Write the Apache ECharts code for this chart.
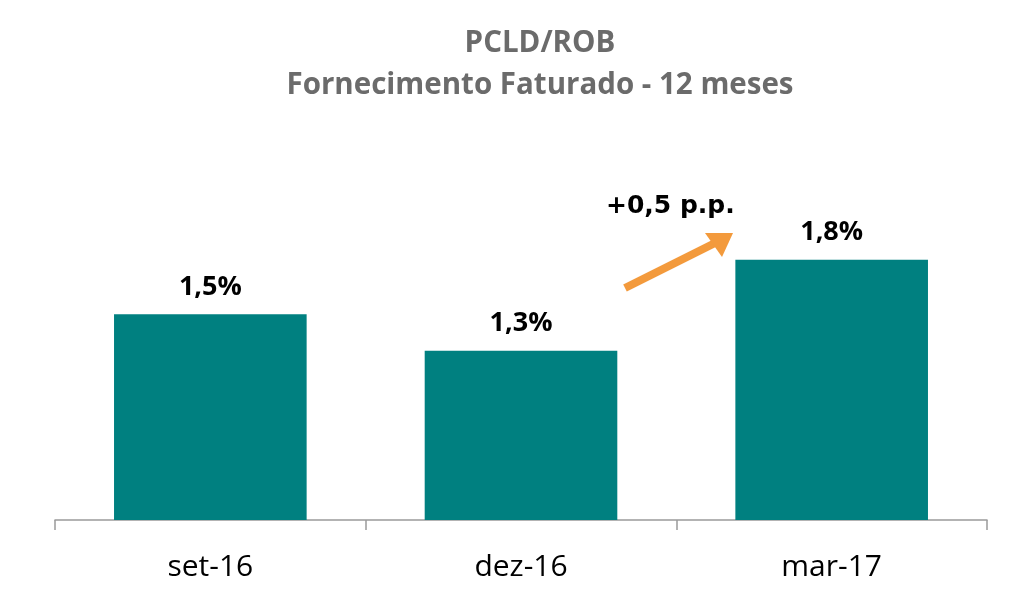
<!DOCTYPE html>
<html>
<head>
<meta charset="utf-8">
<script src="https://cdn.jsdelivr.net/npm/echarts@6/dist/echarts.min.js"></script>
<style>html,body{margin:0;padding:0;background:#fff;}#c{width:1024px;height:615px;}</style>
</head>
<body>
<div id="c"></div>
<script>
const categories = ['set-16', 'dez-16', 'mar-17'];
const values = [1.5, 1.3, 1.8];
const titleLines = ['PCLD/ROB', 'Fornecimento Faturado - 12 meses'];
const annotationText = '+0,5 p.p.';

const chart = echarts.init(document.getElementById('c'));
chart.setOption({
  animation: false,
  backgroundColor: '#ffffff',
  title: {
    text: titleLines.join('\n'),
    left: 540,
    textAlign: 'center',
    top: 23,
    padding: 0,
    textStyle: { fontFamily: 'Open Sans', fontWeight: 'bold', fontSize: 29.5, color: '#6b6b6b', lineHeight: 42 }
  },
  grid: { left: 55, right: 37, top: 180, bottom: 95 },
  xAxis: {
    type: 'category',
    data: categories,
    axisLine: { lineStyle: { color: '#9a9a9a', width: 1.5 } },
    axisTick: { show: true, length: 10, lineStyle: { color: '#9a9a9a', width: 1.5 } },
    axisLabel: { fontFamily: 'Open Sans', fontSize: 30, color: '#000', margin: 32 }
  },
  yAxis: { type: 'value', min: 0.37, max: 2.238, show: false, splitLine: { show: false } },
  series: [{
    type: 'bar',
    data: values,
    barCategoryGap: '38%',
    itemStyle: { color: '#008080' },
    label: {
      show: true,
      position: 'top',
      distance: 14,
      fontFamily: 'Open Sans',
      fontWeight: 'bold',
      fontSize: 27,
      color: '#000',
      formatter: p => p.value.toFixed(1).replace('.', ',') + '%'
    }
  }],
  graphic: [
    {
      type: 'text',
      left: 606, top: 194,
      style: { text: annotationText, fontFamily: 'DejaVu Sans', fontWeight: 'bold', fontSize: 25, fill: '#000' }
    },
    {
      type: 'line',
      shape: { x1: 625, y1: 288, x2: 715, y2: 243 },
      style: { stroke: '#f39a3c', lineWidth: 8 }
    },
    {
      type: 'polygon',
      shape: { points: [[733, 233], [705, 233], [722, 257]] },
      style: { fill: '#f39a3c' }
    }
  ]
});
</script>
</body>
</html>
